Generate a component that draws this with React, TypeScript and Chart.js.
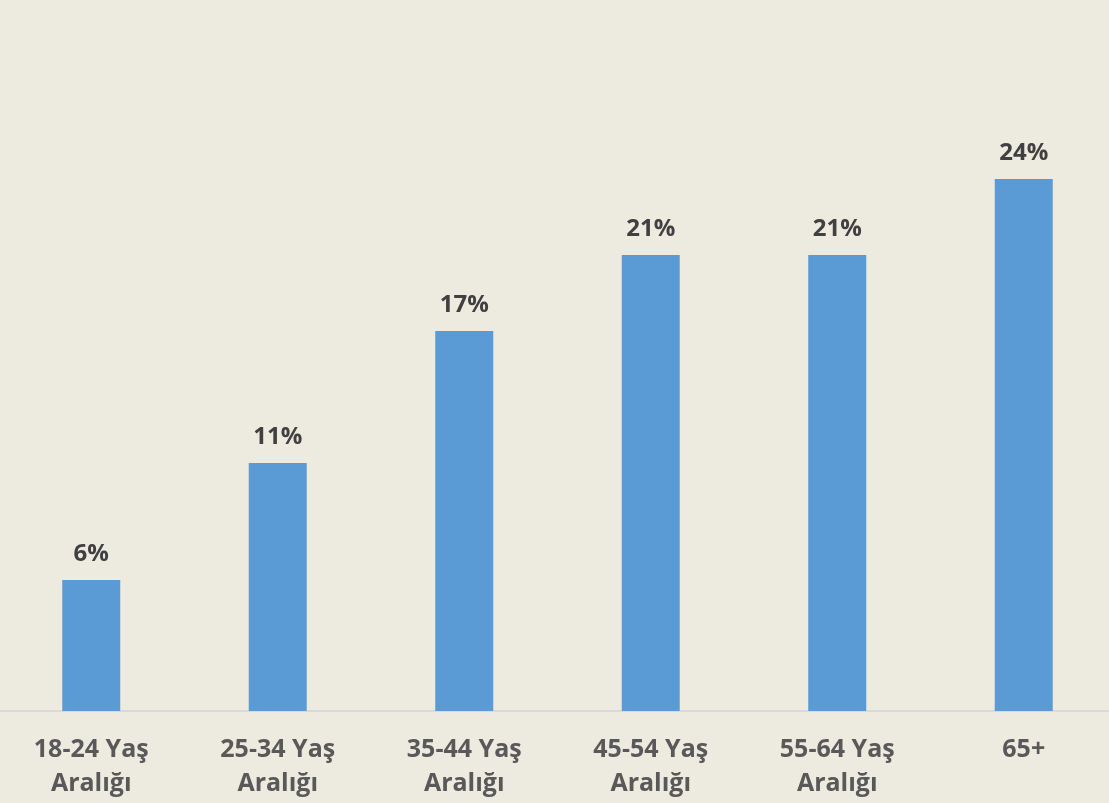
import React, { useEffect, useRef } from "react";
import { Chart, registerables } from "chart.js";

Chart.register(...registerables);

const categories: string[][] = [
  ["18-24 Yaş", "Aralığı"],
  ["25-34 Yaş", "Aralığı"],
  ["35-44 Yaş", "Aralığı"],
  ["45-54 Yaş", "Aralığı"],
  ["55-64 Yaş", "Aralığı"],
  ["65+"],
];
const values: number[] = [5.93, 11.22, 17.19, 20.63, 20.63, 24.07];
const valueLabels: string[] = ["6%", "11%", "17%", "21%", "21%", "24%"];

const BG = "#EDEAE0";
const FONT = "'Open Sans', 'DejaVu Sans', sans-serif";

const valueLabelPlugin = {
  id: "valueLabels",
  afterDatasetsDraw(chart: any) {
    const ctx = chart.ctx;
    const meta = chart.getDatasetMeta(0);
    ctx.save();
    ctx.font = `bold 24px ${FONT}`;
    ctx.fillStyle = "#404040";
    ctx.textAlign = "center";
    ctx.textBaseline = "alphabetic";
    meta.data.forEach((bar: any, i: number) => {
      ctx.fillText(valueLabels[i], bar.x, bar.y - 19);
    });
    ctx.restore();
  },
};

export default function App() {
  const ref = useRef<HTMLCanvasElement | null>(null);
  useEffect(() => {
    document.body.style.margin = "0";
    document.body.style.background = BG;
    const chart = new Chart(ref.current as HTMLCanvasElement, {
      type: "bar",
      data: {
        labels: categories,
        datasets: [
          {
            data: values,
            backgroundColor: "#5B9BD5",
            borderWidth: 0,
            categoryPercentage: 1,
            barPercentage: 0.311,
          },
        ],
      },
      options: {
        animation: false,
        responsive: false,
        maintainAspectRatio: false,
        layout: { padding: { top: 48, left: 0, right: 0, bottom: 0 } },
        plugins: {
          legend: { display: false },
          tooltip: { enabled: false },
        },
        scales: {
          x: {
            grid: { display: false, drawTicks: false },
            border: { display: true, color: "#D9D9D9", width: 2 },
            ticks: {
              color: "#595959",
              font: { family: FONT, size: 25, weight: "bold", lineHeight: 1.36 },
              padding: 22,
              maxRotation: 0,
              autoSkip: false,
            },
            afterFit: (s: any) => {
              s.height = 92;
            },
          },
          y: {
            display: false,
            min: 0,
            max: 30,
          },
        },
      },
      plugins: [valueLabelPlugin],
    });
    return () => chart.destroy();
  }, []);
  return (
    <div
      style={{
        position: "fixed",
        left: 0,
        top: 0,
        width: 1109,
        height: 803,
        overflow: "hidden",
        background: BG,
      }}
    >
      <canvas
        ref={ref}
        width={1119}
        height={803}
        style={{ position: "absolute", left: -2, top: 0, width: 1119, height: 803 }}
      />
    </div>
  );
}
